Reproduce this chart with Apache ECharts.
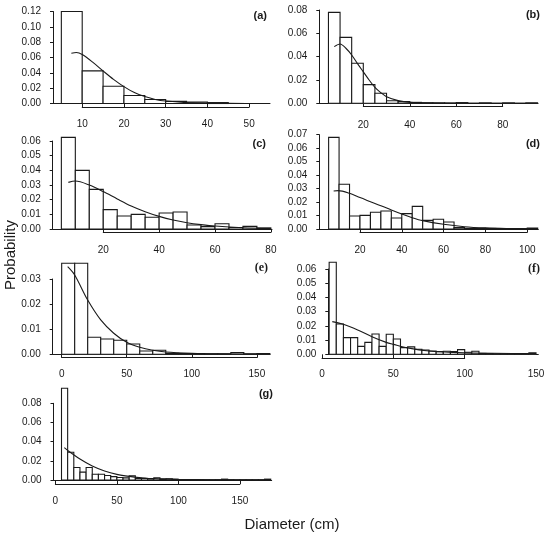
<!DOCTYPE html>
<html><head><meta charset="utf-8">
<script src="https://cdn.jsdelivr.net/npm/echarts@6.0.0/dist/echarts.min.js"></script>
<style>html,body{margin:0;padding:0;background:#fff}#c{width:550px;height:534px}</style>
</head><body><div id="c"></div>
<script>
// ---------------- DATA ----------------
const panelTags = ['(a)','(b)','(c)','(d)','(e)','(f)','(g)'];
const binStarts = [5,5,5,5,0,5,5];
const binWidths = [5,5,5,5,10,5,5];

const heightsA = [0.120,0.0425,0.0225,0.0105,0.0052,0.0028,0.0018,0.0012];
const heightsB = [0.078,0.0565,0.0343,0.016,0.0086,0.0022,0.0014,0.0008,0.0005,0.0004,0.0003,0.0006,0,0.0004,0,0.0004,0,0.0004];
const heightsC = [0.0625,0.040,0.027,0.0132,0.0089,0.0100,0.0080,0.0109,0.0116,0.0027,0.0016,0.0036,0.0010,0.0018,0.0007];
const heightsD = [0.068,0.0332,0.0097,0.0101,0.0124,0.0134,0.0082,0.0114,0.0168,0.0064,0.0072,0.0052,0.0010,0.0005,0.0005,0.0004,0.0003,0.0003,0.0002,0.0007];
const heightsE = [0.0363,0.0363,0.0068,0.0061,0.0056,0.0041,0.0013,0.0016,0.0004,0.0003,0.0003,0.0002,0.0002,0.0007,0.0002,0.0003];
const heightsF = [0.0647,0.0213,0.0117,0.0117,0.0056,0.0084,0.0143,0.0056,0.0141,0.0108,0.0047,0.0052,0.0035,0.0030,0.0023,0.0019,0.0021,0.0019,0.0033,0.0014,0.0021,0.0006,0.0005,0.0004,0.0004,0.0003,0.0003,0.0003,0.0010];
const heightsG = [0.0957,0.029,0.013,0.0082,0.013,0.006,0.006,0.0047,0.0035,0.0026,0.0022,0.0043,0.0017,0.0016,0.0013,0.0023,0.0010,0.0013,0.0007,0.0005,0.0005,0.0003,0.0002,0.0002,0.0002,0.0003,0.0009,0.0003,0.0002,0.0002,0.0002,0.0002,0.0002,0.0009];

const curveXA = [7.4,8.6,10,12.5,15,17.5,20,22.5,25,27.5,30,35,40,45,55];
const curveYA = [0.0655,0.0665,0.0640,0.0540,0.0425,0.0315,0.0220,0.0142,0.0090,0.0053,0.0032,0.0012,0.0004,0.0001,0.0000];
const curveXB = [7.5,10,12.5,15,17.5,20,22.5,25,27.5,30,35,40,50,60,95];
const curveYB = [0.0486,0.0508,0.0472,0.0414,0.0340,0.0270,0.0200,0.0137,0.0092,0.0057,0.0023,0.0008,0.0002,0.0001,0.0000];
const curveXC = [7.5,10,15,20,25,30,35,40,45,50,55,60,70,80];
const curveYC = [0.0318,0.0327,0.0300,0.0255,0.0205,0.0157,0.0118,0.0086,0.0061,0.0043,0.0030,0.0020,0.0009,0.0005];
const curveXD = [7.4,9.6,15,20,25,30,35,40,45,50,60,70,80,90,105];
const curveYD = [0.0282,0.0285,0.0265,0.0233,0.0203,0.0173,0.0141,0.0111,0.0084,0.0062,0.0035,0.0017,0.0008,0.0004,0.0002];
const curveXE = [4.6,10,20,30,40,50,60,70,80,100,120,160];
const curveYE = [0.0349,0.0316,0.0216,0.0137,0.0084,0.0048,0.0028,0.0016,0.0009,0.0004,0.0002,0.0001];
const curveXF = [7.2,15,25,35,45,50,60,75,95,120,150];
const curveYF = [0.0230,0.0211,0.0171,0.0124,0.0084,0.0070,0.0045,0.0023,0.0012,0.0007,0.0005];
const curveXG = [7.3,10.6,20,30,40,50,60,70,80,100,130,175];
const curveYG = [0.0337,0.0303,0.0219,0.0146,0.0094,0.0059,0.0038,0.0024,0.0014,0.0007,0.0003,0.0001];

const xLabelTicksA = [10,20,30,40,50];
const xLabelTicksB = [20,40,60,80];
const xLabelTicksC = [20,40,60,80];
const xLabelTicksD = [20,40,60,80,100];
const xLabelTicksE = [0,50,100,150];
const xLabelTicksF = [0,50,100,150];
const xLabelTicksG = [0,50,100,150];
const xLineTicksF = [0,50,100];

const yTicksA = [0,0.02,0.04,0.06,0.08,0.10,0.12];
const yTicksB = [0,0.02,0.04,0.06,0.08];
const yTicksC = [0,0.01,0.02,0.03,0.04,0.05,0.06];
const yTicksD = [0,0.01,0.02,0.03,0.04,0.05,0.06,0.07];
const yTicksE = [0,0.01,0.02,0.03];
const yTicksF = [0,0.01,0.02,0.03,0.04,0.05,0.06];
const yTicksG = [0,0.02,0.04,0.06,0.08];

const xTitle = 'Diameter (cm)';
const yTitle = 'Probability';

// ---------------- LAYOUT (pixels) ----------------
const layout = [
 {left:53,   right:270,   xmin:3,    xmax:55,    y0:103.5, yTopPx:11.5,  ymax:0.123, axisY:107,   labelY:125,   tagX:267, tagY:16,  tagFont:'bold 11px "Liberation Sans"'},
 {left:319.3,right:538,   xmin:1.06, xmax:95.2,  y0:103.3, yTopPx:10,    ymax:0.082, axisY:106.7, labelY:126,   tagX:540, tagY:15,  tagFont:'bold 11px "Liberation Sans"'},
 {left:52.7, right:272,   xmin:1.9,  xmax:80.4,  y0:229,   yTopPx:141,   ymax:0.065, axisY:232.3, labelY:251.5, tagX:266, tagY:144, tagFont:'bold 11px "Liberation Sans"'},
 {left:319.3,right:538.3, xmin:0.54, xmax:105.3, y0:229,   yTopPx:134.7, ymax:0.071, axisY:232.3, labelY:251.5, tagX:540, tagY:144, tagFont:'bold 11px "Liberation Sans"'},
 {left:52.7, right:270,   xmin:-6.9, xmax:160.1, y0:354.3, yTopPx:279,   ymax:0.038, axisY:357.7, labelY:375,   tagX:268, tagY:268, tagFont:'bold 12px "Liberation Serif"'},
 {left:328.3,right:538.3, xmin:4.4,  xmax:151.6, y0:354.3, yTopPx:269,   ymax:0.067, axisY:358.7, labelY:375,   tagX:540, tagY:269, tagFont:'bold 12px "Liberation Serif"'},
 {left:53.5, right:271.7, xmin:-1.5, xmax:175.8, y0:480,   yTopPx:403.3, ymax:0.098, axisY:484,   labelY:502.7, tagX:273, tagY:394, tagFont:'bold 11px "Liberation Sans"'}
];

const heights = [heightsA,heightsB,heightsC,heightsD,heightsE,heightsF,heightsG];
const curvesX = [curveXA,curveXB,curveXC,curveXD,curveXE,curveXF,curveXG];
const curvesY = [curveYA,curveYB,curveYC,curveYD,curveYE,curveYF,curveYG];
const xLabelTicks = [xLabelTicksA,xLabelTicksB,xLabelTicksC,xLabelTicksD,xLabelTicksE,xLabelTicksF,xLabelTicksG];
const xLineTicks = [xLabelTicksA,xLabelTicksB,xLabelTicksC,xLabelTicksD,xLabelTicksE,xLineTicksF,xLabelTicksG];
const yTicks = [yTicksA,yTicksB,yTicksC,yTicksD,yTicksE,yTicksF,yTicksG];

const INK = '#1a1a1a';
const FONT = '"Liberation Sans", Arial, sans-serif';

const grids=[], xAxes=[], yAxes=[], series=[], graphics=[];

function renderBar(params, api){
  const p0 = api.coord([api.value(0), api.value(2)]);
  const p1 = api.coord([api.value(1), 0]);
  return {type:'rect', shape:{x:p0[0], y:p0[1], width:p1[0]-p0[0], height:p1[1]-p0[1]},
          style:{fill:'#fff', stroke:INK, lineWidth:1.1}};
}

layout.forEach((L,i)=>{
  const yt = yTicks[i];
  const yTop = yt[yt.length-1];
  const pxPerY = (L.y0 - L.yTopPx)/yTop;
  const gTop = L.y0 - L.ymax*pxPerY;
  const k = (L.right-L.left)/(L.xmax-L.xmin);
  const px = v => L.left + (v-L.xmin)*k;

  // data grid
  grids.push({left:L.left, top:gTop, width:L.right-L.left, height:L.y0-gTop});
  let gi = grids.length-1;
  xAxes.push({gridIndex:gi, type:'value', min:L.xmin, max:L.xmax,
    axisLine:{show:true, onZero:false, lineStyle:{color:INK, width:1}},
    axisTick:{show:false}, axisLabel:{show:false}, splitLine:{show:false}});
  yAxes.push({gridIndex:gi, type:'value', min:0, max:L.ymax, show:false, splitLine:{show:false}});
  const xi = xAxes.length-1, yi = yAxes.length-1;
  const bars = heights[i].map((h,j)=>[binStarts[i]+j*binWidths[i], binStarts[i]+(j+1)*binWidths[i], h]);
  series.push({type:'custom', xAxisIndex:xi, yAxisIndex:yi, data:bars, renderItem:renderBar,
    encode:{x:[0,1], y:2}, clip:false, silent:true, z:2});
  series.push({type:'line', xAxisIndex:xi, yAxisIndex:yi,
    data:curvesX[i].map((x,j)=>[x, curvesY[i][j]]),
    smooth:0.3, symbol:'none', silent:true, z:3,
    lineStyle:{color:INK, width:1.1}});

  // y axis grid
  grids.push({left:L.left, top:L.yTopPx, width:10, height:L.y0-L.yTopPx});
  gi = grids.length-1;
  xAxes.push({gridIndex:gi, type:'value', min:0, max:1, show:false});
  yAxes.push({gridIndex:gi, type:'value', min:0, max:yTop, interval:yt[1]-yt[0],
    axisLine:{show:true, lineStyle:{color:INK, width:1}},
    axisTick:{show:true, length:3, lineStyle:{color:INK, width:1}},
    axisLabel:{margin:12, fontSize:10, color:INK, fontFamily:FONT, formatter:v=>v.toFixed(2)},
    splitLine:{show:false}});

  // x axis grids
  const lt = xLineTicks[i], lb = xLabelTicks[i];
  const sameRange = lt[lt.length-1] === lb[lb.length-1];
  const margin = L.labelY - L.axisY - 6;
  grids.push({left:px(lt[0]), top:L.axisY-10, width:px(lt[lt.length-1])-px(lt[0]), height:10});
  gi = grids.length-1;
  yAxes.push({gridIndex:gi, type:'value', min:0, max:1, show:false});
  xAxes.push({gridIndex:gi, type:'value', min:lt[0], max:lt[lt.length-1], interval:lt[1]-lt[0],
    axisLine:{show:true, onZero:false, lineStyle:{color:INK, width:1}},
    axisTick:{show:true, inside:true, length:L.axisY-L.y0, lineStyle:{color:INK, width:1}},
    axisLabel:{show:sameRange, margin:margin, fontSize:10, color:INK, fontFamily:FONT},
    splitLine:{show:false}});
  if(!sameRange){
    grids.push({left:px(lb[0]), top:L.axisY-10, width:px(lb[lb.length-1])-px(lb[0]), height:10});
    gi = grids.length-1;
    yAxes.push({gridIndex:gi, type:'value', min:0, max:1, show:false});
    xAxes.push({gridIndex:gi, type:'value', min:lb[0], max:lb[lb.length-1], interval:lb[1]-lb[0],
      axisLine:{show:false}, axisTick:{show:false},
      axisLabel:{show:true, margin:margin, fontSize:10, color:INK, fontFamily:FONT},
      splitLine:{show:false}});
  }

  graphics.push({type:'text', x:L.tagX, y:L.tagY, silent:true,
    style:{text:panelTags[i], font:L.tagFont, fill:INK, textAlign:'right', textVerticalAlign:'middle'}});
});

graphics.push({type:'text', x:292, y:525, silent:true,
  style:{text:xTitle, font:'15px "Liberation Sans"', fill:INK, textAlign:'center', textVerticalAlign:'middle'}});
graphics.push({type:'text', x:11, y:255, rotation:Math.PI/2, silent:true,
  style:{text:yTitle, font:'15px "Liberation Sans"', fill:INK, textAlign:'center', textVerticalAlign:'middle'}});

const chart = echarts.init(document.getElementById('c'), null, {renderer:'canvas'});
chart.setOption({
  animation:false,
  backgroundColor:'#fff',
  grid:grids, xAxis:xAxes, yAxis:yAxes, series:series, graphic:graphics
});
</script>
</body></html>
